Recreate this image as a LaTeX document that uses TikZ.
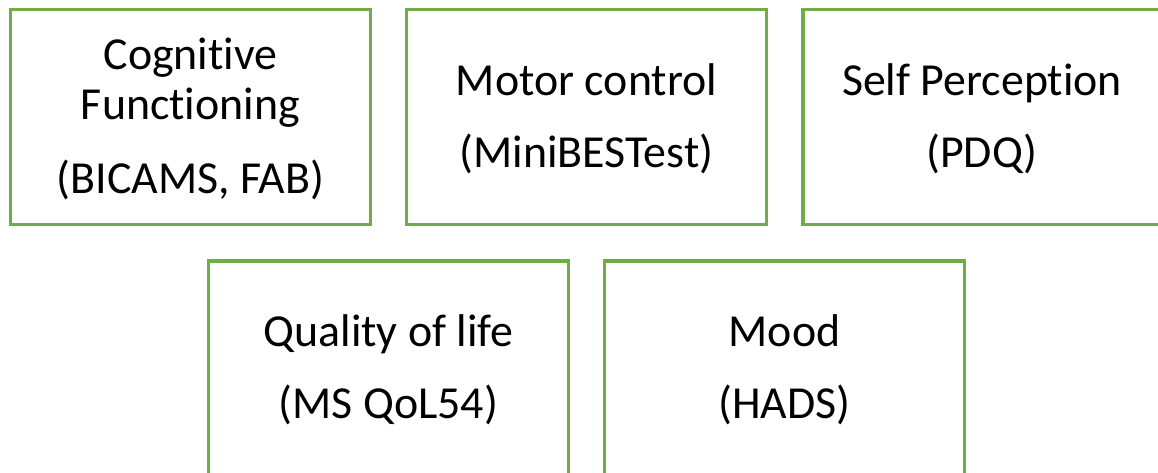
\documentclass[tikz,border=0pt]{standalone}
\usepackage{fontspec}
\setmainfont{Carlito}[RawFeature={-liga}]
\definecolor{boxgreen}{HTML}{70AD47}
\begin{document}
\begin{tikzpicture}[x=0.75pt,y=-0.75pt,
  box/.style={draw=boxgreen,line width=2.4pt,fill=white,rectangle,inner sep=0pt,outer sep=0pt,minimum width=270pt,minimum height=161.25pt,anchor=north west},
  txt/.style={anchor=base,font=\fontsize{34.4}{40}\selectfont,inner sep=0pt}]
\useasboundingbox (0,0) rectangle (1158,473);
\clip (0,0) rectangle (1158,473);
\node[box] (b1) at (10.5,9.5) {};
\node[box] (b2) at (406.5,9.5) {};
\node[box] (b3) at (803,9.5) {};
\node[box] (b4) at (208.5,261) {};
\node[box] (b5) at (604.5,261) {};
\node[txt] (t11) at (190.5,70) {Cognitive};
\node[txt] (t12) at (190.5,120) {Functioning};
\node[txt] (t13) at (190.5,194) {(BICAMS, FAB)};
\node[txt] (t21) at (586.5,96) {Motor control};
\node[txt] (t22) at (586.5,168) {(MiniBESTest)};
\node[txt] (t31) at (982,96) {Self Perception};
\node[txt] (t32) at (982,168) {(PDQ)};
\node[txt] (t41) at (388.5,347) {Quality of life};
\node[txt] (t42) at (388.5,419) {(MS QoL54)};
\node[txt] (t51) at (784.5,347) {Mood};
\node[txt] (t52) at (784.5,419) {(HADS)};
\end{tikzpicture}
\end{document}
